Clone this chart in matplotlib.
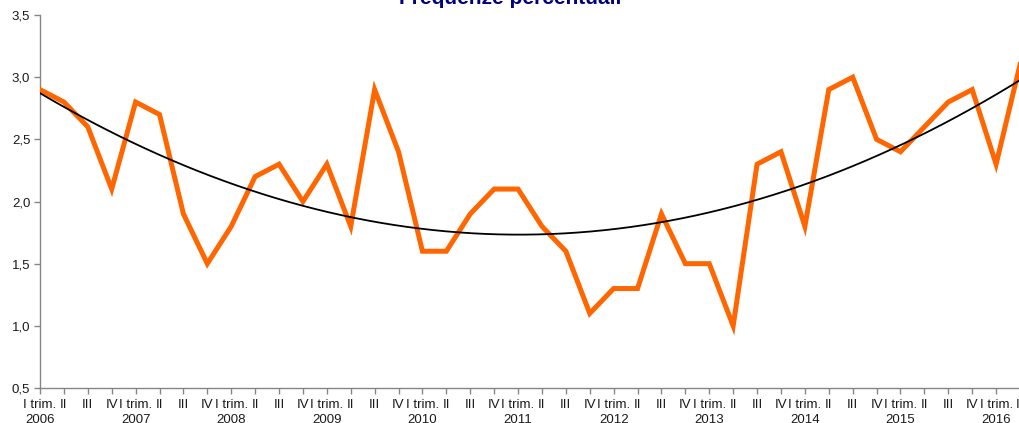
import matplotlib
matplotlib.use("Agg")
import matplotlib.pyplot as plt
import numpy as np

plt.rcParams['font.family'] = ['Liberation Sans', 'DejaVu Sans']

years = ["2006", "2007", "2008", "2009", "2010", "2011", "2012", "2013", "2014", "2015", "2016"]
quarters = ["I trim.", "II", "III", "IV"]
values = [2.9, 2.8, 2.6, 2.1,
          2.8, 2.7, 1.9, 1.5,
          1.8, 2.2, 2.3, 2.0,
          2.3, 1.8, 2.9, 2.4,
          1.6, 1.6, 1.9, 2.1,
          2.1, 1.8, 1.6, 1.1,
          1.3, 1.3, 1.9, 1.5,
          1.5, 1.0, 2.3, 2.4,
          1.8, 2.9, 3.0, 2.5,
          2.4, 2.6, 2.8, 2.9,
          2.3, 3.1]
title = "Frequenze percentuali"

labels = []
for i in range(len(values)):
    q = quarters[i % 4]
    if i % 4 == 0:
        labels.append(q + "\n" + years[i // 4])
    else:
        labels.append(q)

x = np.arange(len(values))
coef = np.polyfit(x, values, 2)
xs = np.linspace(0, len(values) - 1, 300)
trend = np.polyval(coef, xs)

fig = plt.figure(figsize=(10.2, 4.23), dpi=100)
ax = fig.add_axes([40/1020, 1 - 388/423, 1 - 40/1020, (388 - 15)/423])
ax.plot(x, values, color="#FF6600", lw=3.6, solid_joinstyle="miter", zorder=3)
ax.plot(xs, trend, color="black", lw=1.3, zorder=4)

ax.set_xlim(0, len(values) - 1)
ax.set_ylim(0.5, 3.5)
yt = np.arange(0.5, 3.51, 0.5)
ax.set_yticks(yt)
ax.set_yticklabels([f"{v:.1f}".replace(".", ",") for v in yt], fontsize=9.5, color="#1a1a1a")
ax.set_xticks(x)
ax.set_xticklabels(labels, fontsize=9.5, color="#1a1a1a", linespacing=1.3)
for s in ["top", "right"]:
    ax.spines[s].set_visible(False)
for s in ["left", "bottom"]:
    ax.spines[s].set_color("#868686")
    ax.spines[s].set_linewidth(1.0)
ax.tick_params(axis="both", length=4, color="#868686", width=1.0)
ax.tick_params(axis="x", pad=4)
ax.tick_params(axis="y", pad=3)
for lbl in ax.get_xticklabels():
    lbl.set_clip_on(False)

fig.text(0.5, 1 - 4/423, title, ha="center", va="baseline", fontsize=15,
         fontweight="bold", color="#000080")

fig.savefig("out.png", dpi=100)
